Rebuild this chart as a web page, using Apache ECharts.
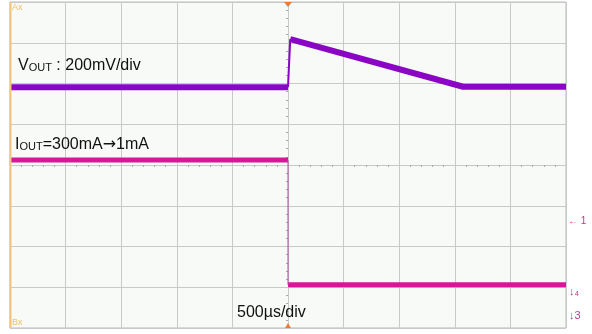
<!DOCTYPE html>
<html>
<head>
<meta charset="utf-8">
<script src="https://cdn.jsdelivr.net/npm/echarts@6/dist/echarts.min.js"></script>
<style>
  html, body { margin: 0; padding: 0; background: #fff; }
  #scope { width: 592px; height: 334px; }
</style>
</head>
<body>
<div id="scope"></div>
<script>
// time in divisions (500us/div), levels in divisions from the bottom of the screen
var voutTime = [0, 5, 5.04, 8.15, 10];
var voutLevel = [5.91, 5.91, 7.09, 5.92, 5.92];
var ioutTime = [0, 5, 5, 10];
var ioutLevel = [4.12, 4.12, 1.06, 1.06];
var xDivs = [0, 10];
var yDivs = [0, 8];

// thick trace everywhere except the fast edge, which is drawn thin
function trace(xs, ys, edge) {
  let out = [];
  for (let i = 0; i < xs.length; i++) {
    if (i === edge) out.push("-");
    out.push([xs[i], ys[i]]);
  }
  return out;
}
function edgeOf(xs, ys, edge) {
  return [[xs[edge - 1], ys[edge - 1]], [xs[edge], ys[edge]]];
}

let chart = echarts.init(document.getElementById("scope"));
let gridColor = "#c9c9c9";
let font = "Arial, 'Liberation Sans', sans-serif";

let option = {
  animation: false,
  backgroundColor: "#ffffff",
  grid: {
    left: 10, right: 26, top: 2, bottom: 6,
    show: true,
    backgroundColor: "#f7faf7",
    borderColor: "#b8b8b8",
    borderWidth: 1
  },
  xAxis: [
    {
      type: "value", min: xDivs[0], max: xDivs[1], interval: 1,
      axisLine: { show: false },
      axisTick: { show: false },
      axisLabel: { show: false },
      splitLine: { show: true, lineStyle: { color: gridColor, width: 1 } }
    },
    {
      type: "value", min: xDivs[0], max: xDivs[1], interval: 1,
      position: "bottom", offset: -163,
      axisLine: { show: false },
      axisLabel: { show: false },
      axisTick: { show: false },
      minorTick: { show: true, splitNumber: 5, length: 2, lineStyle: { color: "#a8a8a8" } },
      splitLine: { show: false }
    }
  ],
  yAxis: [
    {
      type: "value", min: yDivs[0], max: yDivs[1], interval: 1,
      axisLine: { show: false },
      axisTick: { show: false },
      axisLabel: { show: false },
      splitLine: { show: true, lineStyle: { color: gridColor, width: 1 } }
    },
    {
      type: "value", min: yDivs[0], max: yDivs[1], interval: 1,
      position: "left", offset: -278,
      axisLine: { show: false },
      axisLabel: { show: false },
      axisTick: { show: false },
      minorTick: { show: true, splitNumber: 5, length: 2, lineStyle: { color: "#a8a8a8" } },
      splitLine: { show: false }
    }
  ],
  series: [
    {
      name: "VOUT",
      type: "line",
      data: trace(voutTime, voutLevel, 2),
      symbol: "none",
      lineStyle: { color: "#8a06c4", width: 6 },
      z: 3
    },
    {
      name: "VOUT edge",
      type: "line",
      data: edgeOf(voutTime, voutLevel, 2),
      symbol: "none",
      lineStyle: { color: "#8a06c4", width: 2 },
      z: 3
    },
    {
      name: "IOUT",
      type: "line",
      data: trace(ioutTime, ioutLevel, 2),
      symbol: "none",
      lineStyle: { color: "#d8169a", width: 5 },
      z: 2
    },
    {
      name: "IOUT edge",
      type: "line",
      data: edgeOf(ioutTime, ioutLevel, 2),
      symbol: "none",
      lineStyle: { color: "#b04aa0", width: 1 },
      z: 2
    }
  ],
  graphic: [
    { type: "line", shape: { x1: 10.5, y1: 2, x2: 10.5, y2: 328 }, style: { stroke: "#f2c47c", lineWidth: 2 }, z: 10 },
    { type: "text", left: 12, top: 3, style: { text: "Ax", fill: "#f0c070", font: "9px " + font } },
    { type: "text", left: 12, top: 318, style: { text: "Bx", fill: "#f0c070", font: "9px " + font } },
    { type: "polygon", shape: { points: [[284, 2], [292, 2], [288, 7]] }, style: { fill: "#f07a30" }, z: 10 },
    { type: "polygon", shape: { points: [[285, 328], [291, 328], [288, 323]] }, style: { fill: "#f07a30" }, z: 10 },
    {
      type: "text", left: 18, top: 58, z: 10,
      style: {
        text: "{a|V}{b|OUT}{a| : 200mV/div}",
        rich: {
          a: { fontSize: 16, fontFamily: font, fill: "#111" },
          b: { fontSize: 11, fontFamily: font, fill: "#111", padding: [4, 0, 0, 0] }
        }
      }
    },
    {
      type: "text", left: 15, top: 137, z: 10,
      style: {
        text: "{a|I}{b|OUT}{a|=300mA}{c|\u2192}{a|1mA}",
        rich: {
          a: { fontSize: 16, fontFamily: font, fill: "#111" },
          b: { fontSize: 11, fontFamily: font, fill: "#111", padding: [4, 0, 0, 0] },
          c: { fontSize: 16, fontFamily: "'DejaVu Sans'", fill: "#111" }
        }
      }
    },
    { type: "text", left: 237, top: 305, z: 10, style: { text: "500\u00b5s/div", fill: "#111", font: "16px " + font } },
    { type: "text", left: 568, top: 216, style: { text: "\u2190 1", fill: "#d03080", font: "10px " + font } },
    { type: "text", left: 569, top: 286, style: { text: "\u2193\u2084", fill: "#d03090", font: "11px " + font } },
    { type: "text", left: 569, top: 310, style: { text: "\u21933", fill: "#b040a0", font: "11px " + font } }
  ]
};

chart.setOption(option);
</script>
</body>
</html>
